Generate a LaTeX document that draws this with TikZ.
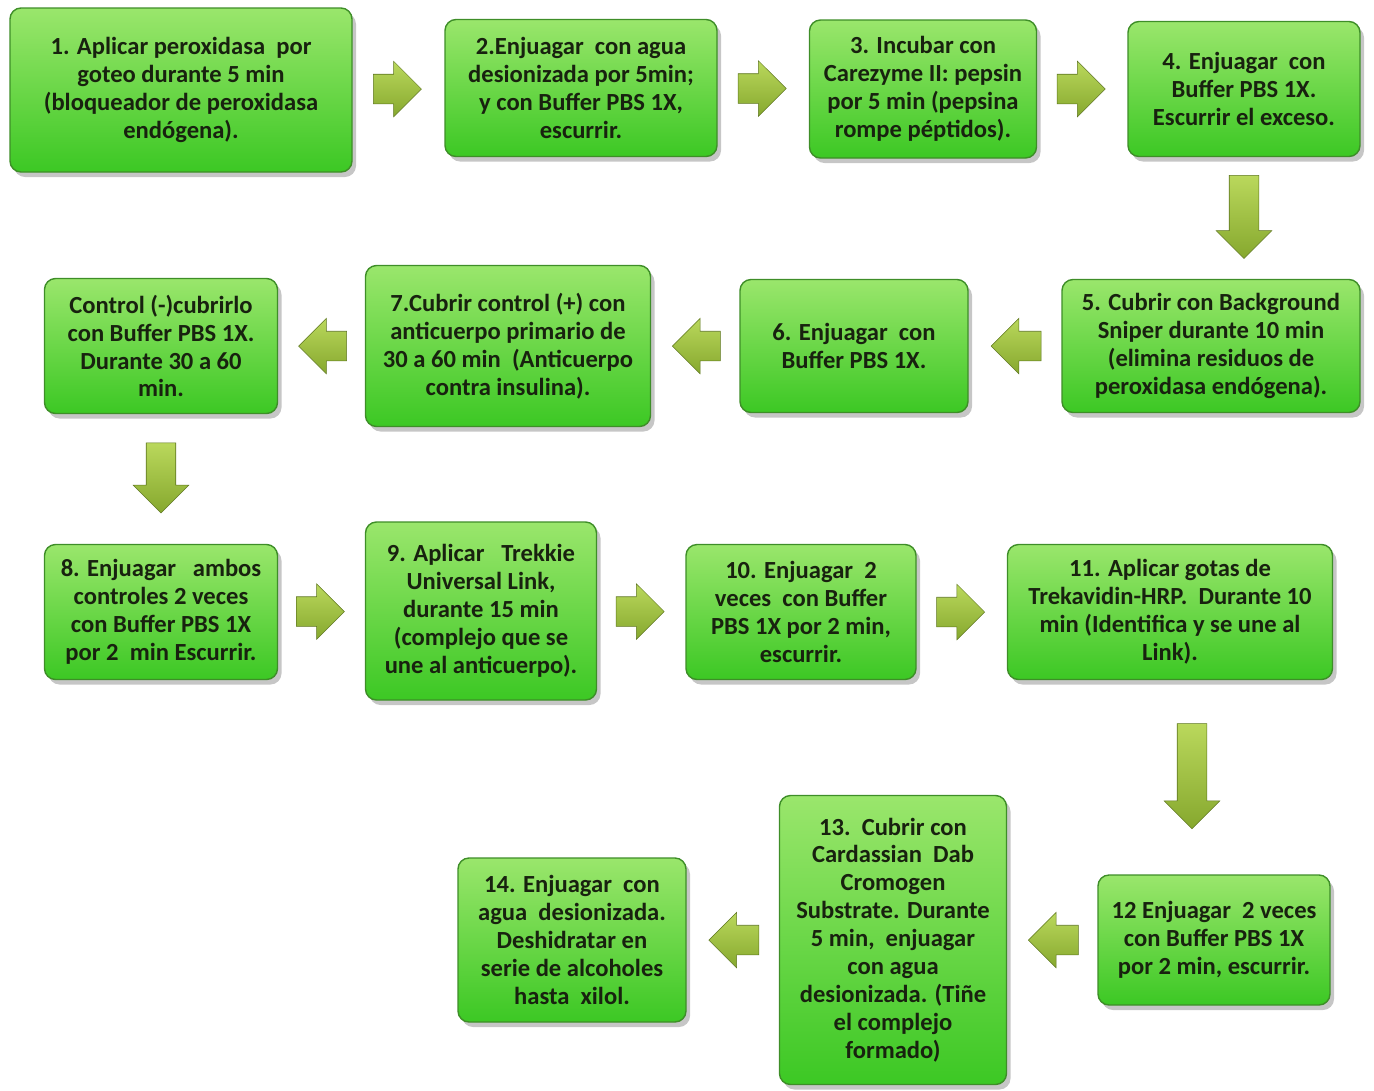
\documentclass[tikz,border=0pt]{standalone}
\usepackage{fontspec}
\setmainfont{Carlito}
\usetikzlibrary{shapes.arrows,shadows,calc}

\definecolor{verdeclaro}{HTML}{9AE66C}
\definecolor{verdeoscuro}{HTML}{3CC824}
\definecolor{bordeverde}{HTML}{3E8E28}
\definecolor{flechaclara}{HTML}{BAD85C}
\definecolor{flechaoscura}{HTML}{86A82E}
\definecolor{texto}{HTML}{18220F}

\tikzset{
  paso/.style 2 args={draw=bordeverde, line width=0.8pt, rounded corners=0.22cm,
    top color=verdeclaro, bottom color=verdeoscuro,
    drop shadow={shadow xshift=0.08cm, shadow yshift=-0.1cm, opacity=0.45},
    minimum width=#1*0.02cm, minimum height=#2*0.02cm, inner sep=0pt,
    align=center, text=texto, font=\bfseries\fontsize{14}{15.9}\selectfont},
  flecha/.style={single arrow, draw=flechaoscura!70!black, line width=0.3pt,
    top color=flechaclara, bottom color=flechaoscura,
    inner xsep=0pt, inner ysep=0.29cm, minimum height=#1*0.02cm,
    single arrow head extend=0.26cm},
  fderecha/.style={flecha=#1, xshift=-0.17cm},
  fizquierda/.style={flecha=#1, rotate=180, xshift=-0.17cm},
  fabajo/.style={flecha=#1, rotate=-90, xshift=-0.17cm},
}

\begin{document}
\begin{tikzpicture}[x=0.02cm, y=-0.02cm]
  \useasboundingbox (0,0) rectangle (1374,1090);

  % pasos, fila 1
  \node[paso={342}{164}] (p1) at (181,90)
    {1. Aplicar peroxidasa\ \ por\\ goteo durante 5 min\\ (bloqueador de peroxidasa\\ endógena).};
  \node[paso={272}{137}] (p2) at (581,88)
    {2.Enjuagar\ \ con agua\\ desionizada por 5min;\\ y con Buffer PBS 1X,\\ escurrir.};
  \node[paso={227}{138}] (p3) at (923,89)
    {3. Incubar con\\ Carezyme II: pepsin\\ por 5 min (pepsina\\ rompe péptidos).};
  \node[paso={232}{135}] (p4) at (1244,89)
    {4. Enjuagar\ \ con\\ Buffer PBS 1X.\\ Escurrir el exceso.};

  % pasos, fila 2
  \node[paso={298}{133}] (p5) at (1211,346)
    {5. Cubrir con Background\\ Sniper durante 10 min\\ (elimina residuos de\\ peroxidasa endógena).};
  \node[paso={228}{133}] (p6) at (854,346)
    {6. Enjuagar\ \ con\\ Buffer PBS 1X.};
  \node[paso={285}{161}] (p7) at (508,346)
    {7.Cubrir control (+) con\\ anticuerpo primario de\\ 30 a 60 min\ \ (Anticuerpo\\ contra insulina).};
  \node[paso={233}{135}] (pc) at (161,346)
    {Control (-)cubrirlo\\ con Buffer PBS 1X.\\ Durante 30 a 60\\ min.};

  % pasos, fila 3
  \node[paso={233}{135}] (p8) at (161,612)
    {8. Enjuagar\ \ \ ambos\\ controles 2 veces\\ con Buffer PBS 1X\\ por 2\ \ min Escurrir.};
  \node[paso={231}{178}] (p9) at (481,611)
    {9. Aplicar\ \ \ Trekkie\\ Universal Link,\\ durante 15 min\\ (complejo que se\\ une al anticuerpo).};
  \node[paso={230}{135}] (p10) at (801,612)
    {10. Enjuagar\ \ 2\\ veces\ \ con Buffer\\ PBS 1X por 2 min,\\ escurrir.};
  \node[paso={325}{135}] (p11) at (1170,612)
    {11. Aplicar gotas de\\ Trekavidin-HRP.\ \ Durante 10\\ min (Identifica y se une al\\ Link).};

  % pasos, fila 4
  \node[paso={232}{130}] (p12) at (1214,940)
    {12 Enjuagar\ \ 2 veces\\ con Buffer PBS 1X\\ por 2 min, escurrir.};
  \node[paso={227}{289}] (p13) at (893,940)
    {13.\ \ Cubrir con\\ Cardassian\ \ Dab\\ Cromogen\\ Substrate. Durante\\ 5 min,\ \ enjuagar\\ con agua\\ desionizada. (Tiñe\\ el complejo\\ formado)};
  \node[paso={228}{164}] (p14) at (572,940)
    {14. Enjuagar\ \ con\\ agua\ \ desionizada.\\ Deshidratar en\\ serie de alcoholes\\ hasta\ \ xilol.};

  % flechas
  \node[fderecha=48] (f12) at ($(p1.east)!0.5!(p2.west)$) {};
  \node[fderecha=48] (f23) at ($(p2.east)!0.5!(p3.west)$) {};
  \node[fderecha=48] (f34) at ($(p3.east)!0.5!(p4.west)$) {};
  \node[fabajo=83] (f45) at ($(p4.south)!0.5!(p4.south |- p5.north)$) {};
  \node[fizquierda=50] (f56) at ($(p5.west)!0.5!(p6.east)$) {};
  \node[fizquierda=48] (f67) at ($(p6.west)!0.5!(p7.east)$) {};
  \node[fizquierda=48] (f7c) at ($(p7.west)!0.5!(pc.east)$) {};
  \node[fabajo=70] (fc8) at ($(pc.south)!0.5!(p8.north)$) {};
  \node[fderecha=48] (f89) at ($(p8.east)!0.5!(p9.west)$) {};
  \node[fderecha=48] (f910) at ($(p9.east)!0.5!(p10.west)$) {};
  \node[fderecha=48] (f1011) at ($(p10.east)!0.5!(p11.west)$) {};
  \node[fabajo=105] (f1112) at ($(p11.south)!0.5!(p12.north)$) {};
  \node[fizquierda=50] (f1213) at ($(p12.west)!0.5!(p13.east)$) {};
  \node[fizquierda=50] (f1314) at ($(p13.west)!0.5!(p14.east)$) {};
\end{tikzpicture}
\end{document}
